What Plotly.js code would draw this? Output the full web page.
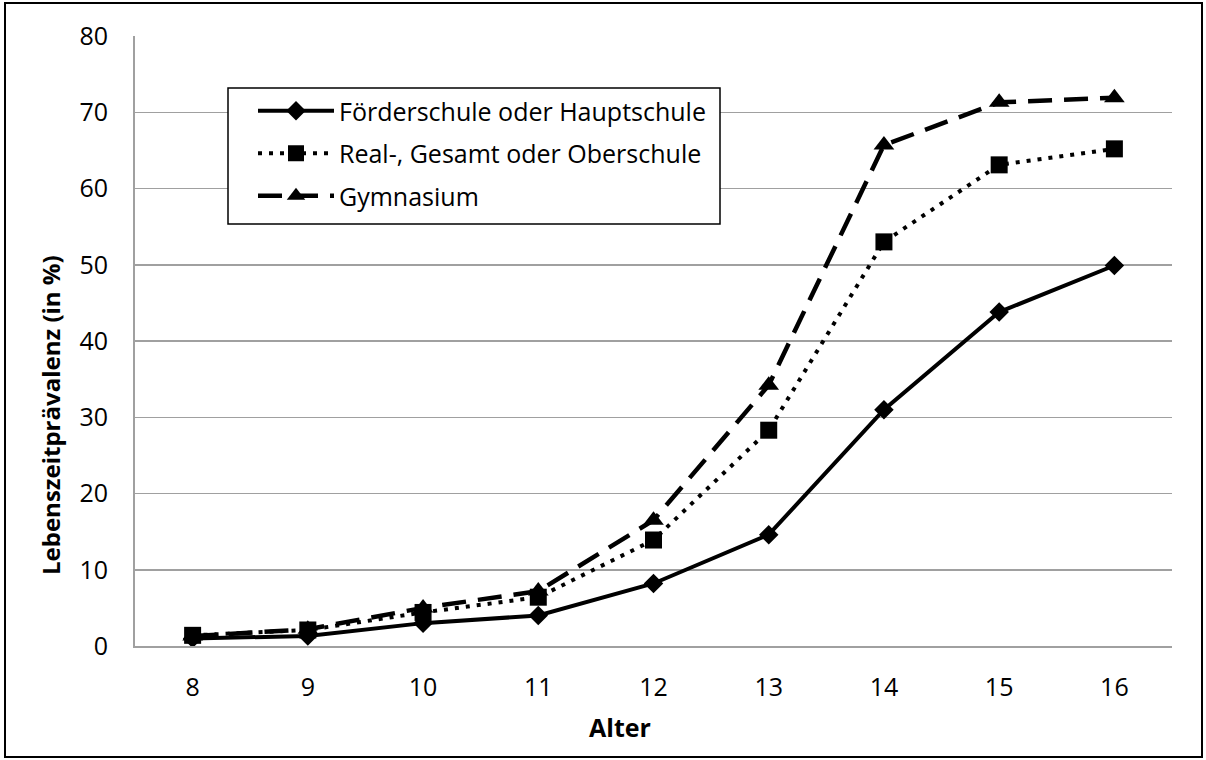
<!DOCTYPE html>
<html>
<head>
<meta charset="utf-8">
<script src="https://cdn.plot.ly/plotly-3.0.1.min.js"></script>
<style>html,body{margin:0;padding:0;background:#fff;}#chart{width:1206px;height:760px;}</style>
</head>
<body>
<div id="chart"></div>
<script>
const ages = ['8','9','10','11','12','13','14','15','16'];
const seriesNames = ['Förderschule oder Hauptschule', 'Real-, Gesamt oder Oberschule', 'Gymnasium'];
const foerderHaupt = [1.0, 1.3, 3.0, 4.0, 8.2, 14.6, 31.0, 43.8, 49.9];
const realGesamtOber = [1.4, 2.1, 4.4, 6.4, 13.9, 28.3, 53.0, 63.1, 65.2];
const gymnasium = [1.3, 2.2, 5.0, 7.2, 16.5, 34.2, 65.7, 71.3, 71.9];
const yTicks = [0, 10, 20, 30, 40, 50, 60, 70, 80];
const xTitle = 'Alter';
const yTitle = 'Lebenszeitprävalenz (in %)';

const FONT = '"Open Sans", Lato, sans-serif';
const W = 1206, H = 760;
const L = 135, R = 34, T = 36, B = 114;
const pw = W - L - R, ph = H - T - B;
const px2x = p => (p - L) / pw;
const py2y = p => (H - B - p) / ph;

const traces = [
  {x: ages, y: foerderHaupt, name: seriesNames[0], legendgroup: 'a', type: 'scatter', mode: 'lines+markers',
   line: {color: '#000', width: 4, dash: 'solid'},
   marker: {symbol: 'diamond', size: 15, color: '#000'}},
  {x: ages, y: realGesamtOber, name: seriesNames[1], legendgroup: 'b', type: 'scatter', mode: 'lines+markers',
   line: {color: '#000', width: 4, dash: '4px,7px'},
   marker: {symbol: 'square', size: 17, color: '#000'}},
  {x: ages, y: gymnasium, name: seriesNames[2], legendgroup: 'c', type: 'scatter', mode: 'lines+markers',
   line: {color: '#000', width: 4.5, dash: '24px,12px'},
   marker: {symbol: 'triangle-up', size: 18, color: '#000'}}
];

const layout = {
  width: W, height: H,
  margin: {l: L, r: R, t: T, b: B, pad: 0},
  paper_bgcolor: '#fff', plot_bgcolor: '#fff',
  font: {family: FONT, size: 25, color: '#000'},
  showlegend: true,
  legend: {
    x: px2x(253), xanchor: 'left',
    y: py2y(88), yanchor: 'top',
    bgcolor: 'rgba(0,0,0,0)', borderwidth: 0,
    font: {family: FONT, size: 25, color: '#000'},
    itemwidth: 76, traceorder: 'grouped', tracegroupgap: 7, itemclick: false
  },
  xaxis: {
    type: 'category', range: [-0.5, ages.length - 0.5],
    showgrid: false, zeroline: false,
    showline: true, linecolor: '#a0a0a0', linewidth: 2,
    ticks: '', ticklabelstandoff: 18,
    tickfont: {family: FONT, size: 25, color: '#000'}
  },
  yaxis: {
    range: [0, 80], tickvals: yTicks, ticktext: yTicks.map(String),
    showgrid: true, gridcolor: '#a0a0a0', gridwidth: 1.5,
    zeroline: false, showline: true, linecolor: '#a0a0a0', linewidth: 2,
    ticks: '', ticklabelstandoff: 20,
    tickfont: {family: FONT, size: 25, color: '#000'}
  },
  annotations: [
    {text: '<b>' + xTitle + '</b>', xref: 'paper', yref: 'paper', x: px2x(620), y: py2y(727),
     xanchor: 'center', yanchor: 'middle', showarrow: false,
     font: {family: FONT, size: 25, color: '#000'}},
    {text: '<b>' + yTitle + '</b>', xref: 'paper', yref: 'paper', x: px2x(50), y: py2y(415),
     xanchor: 'center', yanchor: 'middle', showarrow: false, textangle: -90,
     font: {family: FONT, size: 24, color: '#000'}}
  ],
  shapes: [
    {type: 'rect', xref: 'paper', yref: 'paper',
     x0: px2x(5), x1: px2x(W - 4), y0: py2y(H - 3), y1: py2y(3),
     line: {color: '#000', width: 2}, fillcolor: 'rgba(0,0,0,0)', layer: 'below'},
    {type: 'rect', xref: 'paper', yref: 'paper',
     x0: px2x(228), x1: px2x(720), y0: py2y(224), y1: py2y(88),
     line: {color: '#000', width: 1.5}, fillcolor: '#fff', layer: 'above'}
  ]
};

Plotly.newPlot('chart', traces, layout, {staticPlot: true, displayModeBar: false});
</script>
</body>
</html>
